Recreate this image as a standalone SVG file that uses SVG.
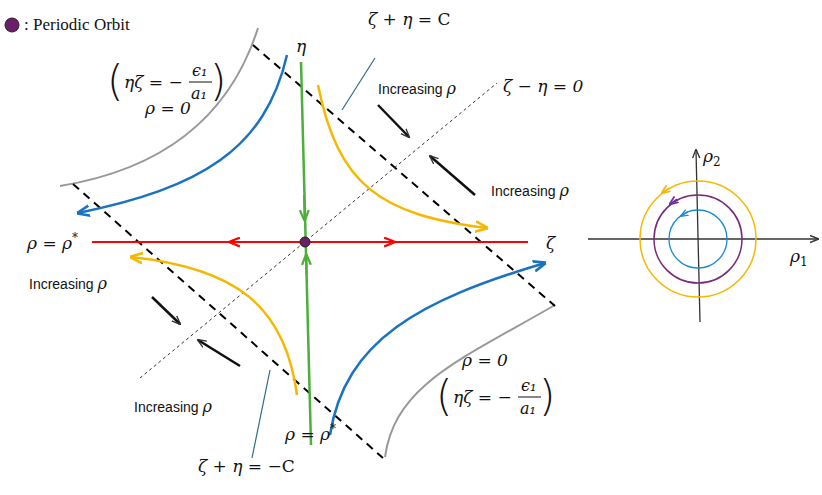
<svg xmlns="http://www.w3.org/2000/svg" width="822" height="495" viewBox="0 0 822 495">
<style>
.m{font-family:"DejaVu Serif","Liberation Serif",serif;font-style:italic;font-size:17px;fill:#111}
.p{font-family:"DejaVu Sans","Liberation Sans",sans-serif;font-size:42px;fill:#111;font-weight:200}
.s{font-family:"Liberation Sans",Arial,sans-serif;font-size:14px;fill:#111}
.t{font-family:"Liberation Serif",serif;font-size:17px;fill:#111}
.f{font-family:"DejaVu Serif","Liberation Serif",serif;font-style:italic;font-size:16px;fill:#111}
.dash{stroke:#000;stroke-width:2;stroke-dasharray:8,6;fill:none}
</style>
<defs>
<marker id="ab" viewBox="0 0 10 10" refX="9" refY="5" markerUnits="userSpaceOnUse" markerWidth="13" markerHeight="13" orient="auto"><path d="M0,1 L10,5 L0,9" fill="none" stroke="#1a73c0" stroke-width="2"/></marker>
<marker id="ay" viewBox="0 0 10 10" refX="9" refY="5" markerUnits="userSpaceOnUse" markerWidth="13" markerHeight="13" orient="auto"><path d="M0,1 L10,5 L0,9" fill="none" stroke="#f5b800" stroke-width="2"/></marker>
<marker id="ar" viewBox="0 0 10 10" refX="9" refY="5" markerUnits="userSpaceOnUse" markerWidth="11" markerHeight="11" orient="auto"><path d="M0,1 L10,5 L0,9" fill="none" stroke="#f00" stroke-width="2"/></marker>
<marker id="ag" viewBox="0 0 10 10" refX="9" refY="5" markerUnits="userSpaceOnUse" markerWidth="11" markerHeight="11" orient="auto"><path d="M0,1 L10,5 L0,9" fill="none" stroke="#4caf3a" stroke-width="2"/></marker>
<marker id="ak" viewBox="0 0 10 10" refX="9" refY="5" markerUnits="userSpaceOnUse" markerWidth="9" markerHeight="9" orient="auto"><path d="M0,1 L10,5 L0,9" fill="none" stroke="#333" stroke-width="1.5"/></marker>
<marker id="ap" viewBox="0 0 10 10" refX="9" refY="5" markerUnits="userSpaceOnUse" markerWidth="9" markerHeight="9" orient="auto"><path d="M0,1 L10,5 L0,9" fill="none" stroke="#7030a0" stroke-width="2"/></marker>
<marker id="ac" viewBox="0 0 10 10" refX="9" refY="5" markerUnits="userSpaceOnUse" markerWidth="8" markerHeight="8" orient="auto"><path d="M0,1 L10,5 L0,9" fill="none" stroke="#1a8ad0" stroke-width="1.5"/></marker>
<marker id="ao" viewBox="0 0 10 10" refX="9" refY="5" markerUnits="userSpaceOnUse" markerWidth="9" markerHeight="9" orient="auto"><path d="M0,1 L10,5 L0,9" fill="none" stroke="#f5b800" stroke-width="2"/></marker>
</defs>
<g id="connectors">
<path d="M258,28 C232,110 170,168 60,186" stroke="#999" stroke-width="2" fill="none"/>
<path d="M385,457 C395,385 460,360 555,305" stroke="#999" stroke-width="2" fill="none"/>
<line x1="253" y1="45" x2="555" y2="306" class="dash"/>
<line x1="73" y1="184" x2="383" y2="458" class="dash"/>
<line x1="140" y1="378" x2="497" y2="83" stroke="#333" stroke-width="1" stroke-dasharray="3,3"/>
<line x1="92" y1="242" x2="528" y2="242" stroke="#f00" stroke-width="2"/>
<line x1="250" y1="242" x2="230" y2="242" stroke="#f00" stroke-width="2" marker-end="url(#ar)"/>
<line x1="370" y1="242" x2="394" y2="242" stroke="#f00" stroke-width="2" marker-end="url(#ar)"/>
<line x1="301" y1="62" x2="311" y2="445" stroke="#4caf3a" stroke-width="2.5"/>
<line x1="304" y1="195" x2="304.6" y2="220" stroke="#4caf3a" stroke-width="2" marker-end="url(#ag)"/>
<line x1="306.7" y1="275" x2="306.2" y2="255" stroke="#4caf3a" stroke-width="2" marker-end="url(#ag)"/>
<path d="M287,55 C265,150 200,188 78,213" stroke="#1a73c0" stroke-width="2.5" fill="none" marker-end="url(#ab)"/>
<path d="M330,435 C345,340 420,300 545,263" stroke="#1a73c0" stroke-width="2.5" fill="none" marker-end="url(#ab)"/>
<path d="M318,85 C338,185 380,215 487,228" stroke="#f5b800" stroke-width="2.5" fill="none" marker-end="url(#ay)"/>
<path d="M297,395 C285,305 235,268 131,257" stroke="#f5b800" stroke-width="2.5" fill="none" marker-end="url(#ay)"/>
<line x1="378" y1="105" x2="409" y2="137" stroke="#111" stroke-width="2.5" marker-end="url(#ak)"/>
<line x1="475" y1="195" x2="430" y2="156" stroke="#111" stroke-width="2.5" marker-end="url(#ak)"/>
<line x1="152" y1="297" x2="180" y2="324" stroke="#111" stroke-width="2.5" marker-end="url(#ak)"/>
<line x1="240" y1="366" x2="198" y2="340" stroke="#111" stroke-width="2.5" marker-end="url(#ak)"/>
<line x1="342" y1="110" x2="375" y2="58" stroke="#2e6b8a" stroke-width="1.2"/>
<line x1="252" y1="458" x2="270" y2="370" stroke="#2e6b8a" stroke-width="1.2"/>
</g>
<g id="orbit"><circle cx="305" cy="242" r="5" fill="#6b1f6b" stroke="#222"/></g>
<g id="legend"><circle cx="12" cy="25" r="7" fill="#6b1f6b" stroke="#222"/><text x="24" y="30" class="t">: Periodic Orbit</text></g>
<g id="labels">
<text x="296" y="52" class="m">η</text>
<text x="546" y="249" class="m">ζ</text>
<text x="368" y="25" class="m">ζ + η = <tspan font-style="normal">C</tspan></text>
<text x="503" y="92" class="m">ζ − η = 0</text>
<text x="198" y="472" class="m">ζ + η = −<tspan font-style="normal">C</tspan></text>
<text x="27" y="249" class="m">ρ = ρ<tspan font-size="12" dy="-7" font-style="normal">*</tspan></text>
<text x="285" y="440" class="m">ρ = ρ<tspan font-size="12" dy="-7" font-style="normal">*</tspan></text>
<text x="145" y="114" class="m">ρ = 0</text>
<text x="462" y="366" class="m">ρ = 0</text>
<g id="eq1"><text x="107" y="96" class="p">(</text><text x="124" y="88" class="m">ηζ = −</text><text x="192" y="76" class="f">ϵ₁</text><line x1="189" y1="82" x2="212" y2="82" stroke="#111"/><text x="191" y="99" class="f">a₁</text><text x="210" y="96" class="p">)</text></g>
<g id="eq2"><text x="436" y="411" class="p">(</text><text x="453" y="403" class="m">ηζ = −</text><text x="521" y="391" class="f">ϵ₁</text><line x1="518" y1="397" x2="541" y2="397" stroke="#111"/><text x="520" y="414" class="f">a₁</text><text x="539" y="411" class="p">)</text></g>
<text x="378" y="94" class="s">Increasing <tspan class="f" font-size="15">ρ</tspan></text>
<text x="491" y="196" class="s">Increasing <tspan class="f" font-size="15">ρ</tspan></text>
<text x="29" y="289" class="s">Increasing <tspan class="f" font-size="15">ρ</tspan></text>
<text x="134" y="412" class="s">Increasing <tspan class="f" font-size="15">ρ</tspan></text>
</g>
<g id="polar">
<line x1="588" y1="239" x2="818" y2="239" stroke="#333" stroke-width="1.3" marker-end="url(#ak)"/>
<line x1="700" y1="322" x2="696" y2="150" stroke="#333" stroke-width="1.3" marker-end="url(#ak)"/>
<circle cx="698" cy="239" r="29" fill="none" stroke="#1a8ad0" stroke-width="1.3"/>
<circle cx="698" cy="239" r="44" fill="none" stroke="#7a2a7a" stroke-width="1.5"/>
<circle cx="698" cy="239" r="58" fill="none" stroke="#f5b800" stroke-width="1.5"/>
<line x1="688" y1="212" x2="681" y2="216" stroke="#1a8ad0" stroke-width="1.3" marker-end="url(#ac)"/>
<line x1="677" y1="199" x2="670" y2="204" stroke="#7030a0" stroke-width="1.5" marker-end="url(#ap)"/>
<line x1="669" y1="188" x2="662" y2="193" stroke="#f5b800" stroke-width="1.5" marker-end="url(#ao)"/>
<text x="703" y="162" class="m">ρ<tspan font-size="12" dy="4" font-style="normal">2</tspan></text>
<text x="790" y="262" class="m">ρ<tspan font-size="12" dy="4" font-style="normal">1</tspan></text>
</g>
</svg>
